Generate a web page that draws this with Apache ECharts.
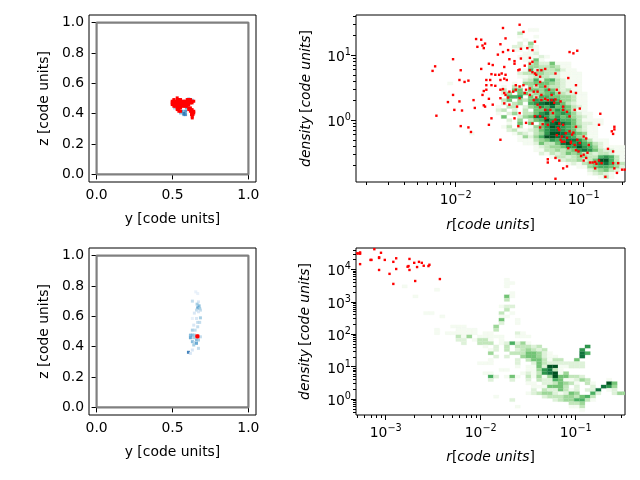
<!DOCTYPE html>
<html><head><meta charset="utf-8">
<style>html,body{margin:0;padding:0;background:#fff}#c{width:640px;height:480px}</style>
<script src="https://cdn.jsdelivr.net/npm/echarts@6/dist/echarts.min.js"></script>
</head><body><div id="c"></div>
<script>
// Axis limits
const linearMin = -0.05, linearMax = 1.05;
const topRExpMin = -2.778, topRExpMax = -0.677, topDensExpMin = -0.95, topDensExpMax = 1.62;
const botRExpMin = -3.313, botRExpMax = -0.481, botDensExpMin = -0.49, botDensExpMax = 4.657;
// Tick labels
const yTicks = [0, 0.5, 1];
const zTicks = [0, 0.2, 0.4, 0.6, 0.8, 1];
const topRMajor = [0.01, 0.1];
const topRMinor = [0.002,0.003,0.004,0.005,0.006,0.007,0.008,0.009,0.02,0.03,0.04,0.05,0.06,0.07,0.08,0.09,0.2];
const topDensMajor = [1, 10];
const topDensMinor = [0.2,0.3,0.4,0.5,0.6,0.7,0.8,0.9,2,3,4,5,6,7,8,9,20,30,40];
const botRMajor = [0.001, 0.01, 0.1];
const botRMinor = [0.0005,0.0006,0.0007,0.0008,0.0009,0.002,0.003,0.004,0.005,0.006,0.007,0.008,0.009,0.02,0.03,0.04,0.05,0.06,0.07,0.08,0.09,0.2,0.3];
const botDensMajor = [1, 10, 100, 1000, 10000];
const botDensMinor = [0.4,0.5,0.6,0.7,0.8,0.9,2,3,4,5,6,7,8,9,20,30,40,50,60,70,80,90,200,300,400,500,600,700,800,900,2000,3000,4000,5000,6000,7000,8000,9000,20000,30000,40000];
// Frame drawn in the left panels
const boxPath = [[0,0],[1,0],[1,1],[0,1],[0,0]];
// Colour levels
const greens = ['#ffffff','#f4fbf1','#def2d9','#c2e7bb','#9dd798','#73c476','#4bb062','#2e964d','#10743c','#005322'];
const blues = ['#ffffff','#e3eef9','#cfe1f2','#b5d4e9','#93c4de','#6caed6','#4a97c9','#2e7ebc','#1764ab','#084a91'];
// Top-left panel: [y, z, level]
const topLeftBlue = [[.513,.438,4],[.542,.438,6],[.564,.416,7],[.586,.416,7],[.575,.401,8],[.592,.438,6],[.553,.405,5],[.618,.493,6],[.629,.489,5],[.607,.497,5],[.575,.394,7],[.586,.394,7]];
const topLeftRed = [[.531,.504],
[.509,.493],[.531,.493],[.542,.493],[.553,.493],[.597,.493],[.607,.493],[.618,.493],
[.498,.482],[.509,.482],[.520,.482],[.531,.482],[.542,.482],[.553,.482],[.564,.482],[.575,.482],[.586,.482],[.597,.482],[.607,.482],[.618,.482],[.629,.482],[.640,.482],
[.498,.471],[.509,.471],[.520,.471],[.531,.471],[.542,.471],[.553,.471],[.564,.471],[.575,.471],[.586,.471],[.597,.471],[.607,.471],[.618,.471],[.629,.471],
[.498,.460],[.509,.460],[.520,.460],[.531,.460],[.542,.460],[.553,.460],[.564,.460],[.575,.460],[.586,.460],[.597,.460],[.607,.460],
[.509,.449],[.520,.449],[.531,.449],[.542,.449],[.553,.449],[.564,.449],[.575,.449],[.586,.449],[.597,.449],
[.531,.438],[.542,.438],[.553,.438],[.607,.438],[.618,.438],
[.531,.427],[.542,.427],[.607,.427],[.618,.427],[.629,.427],
[.542,.416],[.553,.416],[.618,.416],[.629,.416],[.640,.416],
[.625,.405],[.640,.405],[.625,.394],[.635,.394],[.630,.383],[.630,.372]];
// Bottom-left panel: [y, z, level]
const botLeftBlue = [[.653,.761,1],[.666,.750,1],[.631,.700,3],[.671,.695,2],[.662,.680,4],[.675,.669,5],[.666,.656,6],[.679,.652,4],[.658,.641,3],[.684,.641,3],[.671,.630,2],[.644,.621,2],[.684,.590,4],[.631,.586,1],[.658,.586,2],[.666,.560,3],[.679,.560,3],[.640,.542,2],[.666,.531,3],[.631,.509,4],[.649,.509,3],[.618,.476,5],[.631,.476,5],[.644,.476,4],[.618,.459,6],[.640,.459,4],[.658,.444,5],[.671,.444,4],[.631,.433,5],[.644,.428,3],[.684,.465,3],[.658,.422,6],[.640,.411,4],[.671,.389,3],[.631,.378,2],[.605,.363,8],[.618,.356,2]];
const botLeftRed = [[.658,.474],[.664,.474],[.670,.474],[.658,.468],[.664,.468],[.670,.468],[.658,.462],[.664,.462],[.670,.462]];
// Top-right histogram rows: [row, firstColumn, counts]
const topHeat = [
[45,32,[1,1]],[44,30,[3]],[43,30,[1,0,0,1]],[42,31,[1]],[41,30,[2,0,4]],[40,29,[2,2,1,3,1]],[39,29,[1,1,0,1,1]],[38,31,[1,1,2]],
[37,30,[1,1,1,1,2,1]],[36,31,[1,1,5,1]],[35,32,[3,4,2,2,5,1,1,1]],[34,32,[4,4,3,3,4,3,1,1]],[33,31,[1,6,2,4,3,3,4,2,1,1]],
[32,30,[2,3,3,4,4,3,3,2,1,1,1,1]],[31,30,[1,1,2,3,3,3,2,2,1,1,1,1]],[30,31,[2,3,6,2,5,6,3,2,1,1,1]],
[29,17,[1]],[29,29,[1,0,4,4,5,5,5,4,3,2,1,1,1]],[28,27,[1,0,3,2,0,4,3,5,4,3,3,2,1,1,1]],[27,27,[3,0,5,5,0,5,5,4,6,5,3,2,3,1,1]],
[26,26,[0,2,4,0,5,5,3,4,4,5,6,4,3,2,2,1,1]],[25,27,[0,6,6,7,0,5,3,6,6,5,5,4,4,3,1,1]],[24,26,[0,3,5,0,4,3,5,7,6,6,8,6,4,4,3,1,1]],
[23,26,[0,2,0,3,4,0,6,7,8,9,9,7,5,3,2,1,1]],[22,26,[1,0,3,3,0,2,4,5,7,6,8,5,6,5,3,2,1]],[21,26,[2,3,0,2,0,3,0,5,5,7,5,7,6,5,3,1,1]],
[20,26,[1,0,2,4,0,3,3,5,7,8,5,6,7,6,4,2,1,1]],[19,27,[5,0,0,2,4,5,8,8,7,5,7,5,6,4,3,2,1]],[18,27,[0,2,0,4,0,3,5,6,9,7,8,6,6,5,3,1,1,1,1]],
[17,27,[0,1,0,5,0,5,0,4,7,8,9,8,7,5,3,2,2,1,1]],[16,26,[0,1,3,0,3,0,1,4,5,7,9,8,7,6,5,4,2,1,1]],[15,28,[2,3,1,1,2,3,5,7,8,8,7,6,5,3,2,1,1]],
[14,21,[1]],[14,29,[1,3,2,1,3,4,7,9,9,8,7,6,5,4,1,1]],[13,30,[1,4,2,4,6,9,9,8,8,7,6,4,3,1,1]],[12,30,[1,1,1,3,4,5,7,6,7,8,8,7,5,3,1,1,1]],
[11,31,[1,1,2,5,3,3,5,8,9,7,8,6,5,3,2,1]],[10,33,[1,2,3,4,4,5,7,7,9,7,6,4,2,1,1,1,1]],[9,33,[1,1,3,3,4,3,4,5,7,8,7,5,3,2,2,1,1]],
[8,34,[2,1,3,2,3,5,4,5,3,3,2,3,3,2,1,1]],[7,36,[1,3,3,2,3,4,4,3,3,6,7,6,3,1,1]],[6,38,[2,3,3,4,2,3,5,9,9,6,3,1]],
[5,39,[1,2,1,3,4,5,7,8,6,4,3]],[4,41,[1,1,4,5,6,6,5,4,2]],[3,43,[2,3,4,5,3,2]],[2,43,[1,2,3,2,1]],[1,45,[1,3,1]]];
// Bottom-right histogram rows: [row, firstColumn, counts]
const botHeat = [
[40,4,[1]],[39,4,[1,1]],[38,-15,[1]],[38,4,[1]],[37,-9,[1]],[36,5,[1]],[35,-13,[1]],[35,4,[5,1]],[34,4,[3]],[32,3,[1,2,2]],[31,4,[3]],
[30,-11,[1,1]],[30,3,[3,0,1]],[29,-8,[1]],[29,3,[1,1]],[28,3,[5,0,0,1]],[27,3,[2,0,0,1]],[26,-6,[1,1,1]],[26,2,[4]],[25,-9,[1]],[25,-5,[1,1,1,1]],[25,2,[3]],
[24,-9,[1]],[24,-7,[1,1,1,1,1,1]],[24,0,[1,1,0,0,0,0,2,1]],[23,-5,[3,1,4]],[23,-1,[1,1,1,1,1,0,0,1,1,1]],[22,-5,[2,2,0,1,3]],[22,0,[3,1,0,1]],
[21,-4,[2]],[21,-1,[3,3,3,0,1,2,6,2,4,1]],[20,0,[1,0,2,0,3,0,3,3,3,2,3]],[20,19,[7]],[19,1,[1,2,0,3,0,2,3,4,3,2,3]],[19,18,[7]],
[18,1,[4,0,0,0,3,3,3,5,5,4,2,1]],[18,18,[8,6]],[17,2,[2,0,2,0,0,4,5,5,4,2,1]],[17,13,[1]],[17,18,[8]],
[16,1,[1,0,0,0,0,2,0,3,5,5,3,1,3,3,0,0,5]],[15,-1,[1,1,1]],[15,6,[2,0,0,2,5,3,2,2,2,2,2,2,2]],[14,6,[1,0,1,1,5,2,9,9,1,1,2,2,2]],
[13,3,[1,1,0,0,0,1,1,4,7,8,3,1]],[12,0,[1,1]],[12,7,[1,2,1,3,7,8,9,1,4]],[11,1,[6,2,0,1,5,1,0,3,1,4,1,4,9,5,5,3,3,2]],
[10,1,[2,0,0,0,2,0,0,2,0,3,2,2,6,5,1,1,2,4,3,0,0,0,1]],[9,8,[1,1,0,2,2,3,5,4,3,1,0,3,1,0,0,9,5]],[8,9,[1,1,1,5,5,5,3,0,2,0,0,2,0,8,7,4]],
[7,9,[2,0,3,2,2,5,3,1,2,0,2,2,8,0,1,2]],[6,8,[1,2,3,4,4,2,1,2,5,4,0,0,6,2,0,0,2,4,4]],[5,2,[1]],[5,11,[2,3,3,3,4,4,3,5,6,3]],
[4,5,[2]],[4,13,[2,3,4,4,6,6,3,1]],[3,16,[3,3,4]],[2,6,[1]],[2,16,[1,1,3]],[1,18,[1]]];
// Red particles, as [log10 r, log10 density]
const topRed = [[-2.18,.76],[-2.16,.83],[-2.15,.07],[-2.02,.94],[-1.96,.77],[-2.02,.39],[-2.06,.28],[-1.97,.62],[-1.93,.59],[-1.90,.61],[-1.97,.29],[-2.01,.16],[-1.95,.15],[-1.96,-.09],[-1.90,-.11],[-1.88,-.18],[-1.86,.31],[-1.85,.19],[-1.84,1.25],[-1.80,1.24],[-1.83,1.13],[-1.79,1.15],[-1.77,1.18],[-1.78,1.11],[-1.80,.79],[-1.74,.87],[-1.71,.85],[-1.76,.62],[-1.73,.62],[-1.72,.71],[-1.69,.70],[-1.76,.47],[-1.78,.45],[-1.79,.39],[-1.76,.54],[-1.72,.54],[-1.69,.53],[-1.74,.33],[-1.78,.23],[-1.77,.21],[-1.71,.24],[-1.72,.03],[-1.74,-.07],[-1.65,-.30],[-1.65,1.17],[-1.63,1.42],[-1.61,1.26],[-1.50,1.47],[-1.47,1.36],[-1.67,1.01],[-1.63,1.05],[-1.59,1.08],[-1.55,1.07],[-1.49,1.10],[-1.44,1.11],[-1.40,1.08],[-1.38,1.21],[-1.42,.96],[-1.40,.90],[-1.58,.94],[-1.54,.87],[-1.51,.77],[-1.46,.84],[-1.42,.87],[-1.62,.82],[-1.61,.70],[-1.66,.70],[-1.64,.72],[-1.65,.62],[-1.62,.64],[-1.60,.62],[-1.63,.48],[-1.65,.47],[-1.62,.42],[-1.61,.39],[-1.58,.44],[-1.55,.44],[-1.53,.54],[-1.50,.52],[-1.47,.54],[-1.45,.47],[-1.42,.49],[-1.39,.44],[-1.37,.54],[-1.34,.59],[-1.30,.52],[-1.27,.47],[-1.36,.77],[-1.33,.77],[-1.30,.79],[-1.40,.74],[-1.37,.70],[-1.34,.67],[-1.22,.72],[-1.21,.47],[-1.25,.39],[-1.28,.31],[-1.33,.39],[-1.37,.35],[-1.39,.31],[-1.42,.39],[-1.46,.42],[-1.50,.34],[-1.52,.21],[-1.58,.24],[-1.59,.35],[-1.65,.34],[-1.62,.26],[-1.50,.11],[-1.54,.03],[-1.51,-.09],[-1.45,-.04],[-1.40,-.05],[-1.34,.06],[-1.30,.03],[-1.26,.16],[-1.22,.32],[-1.19,.42],[-1.16,.21],[-1.13,.13],[-1.11,.06],[-1.07,.16],[-1.03,.18],[-1.10,.44],[-1.06,.42],[-1.12,.65],[-1.06,.54],[-1.11,1.05],[-1.08,1.03],[-1.05,1.07],[-.87,.10],[-.88,-.07],[-1.18,.29],[-1.36,.24],[-1.34,.20],[-1.30,.16],[-1.28,-.07],[-1.24,.11],[-1.22,.01],[-1.19,-.05],[-1.16,-.07],[-1.20,-.12],[-1.21,-.23],[-1.17,-.25],[-1.15,-.33],[-1.11,-.17],[-1.08,-.19],[-1.06,-.10],[-1.10,-.33],[-1.07,-.38],[-1.03,-.35],[-1.00,-.25],[-.96,-.38],[-.98,-.28],[-1.04,-.48],[-1.00,-.53],[-.98,-.58],[-1.28,-.60],[-1.28,-.65],[-1.22,-.58],[-1.19,-.62],[-1.13,-.71],[-1.16,-.74],[-1.22,-.90],[-.91,-.64],[-.93,-.65],[-.95,-.65],[-.86,-.66],[-.91,-.74],[-.83,-.87],[-.77,-.66],[-.73,-.66],[-.76,-.74],[-.70,-.76],[-.74,-.81],[-.68,-.76],[-.81,-.44],[-.77,-.48],[-.78,-.17],[-.77,-.21],[-.76,-.10],[-.76,-.14],[-1.17,-.33],[-1.12,-.43],[-1.10,-.35],[-1.06,-.46],[-1.34,-.11],[-1.32,-.06],[-1.38,.06],[-1.23,.27],[-1.16,.16],[-1.30,.33],[-1.25,.31],[-1.36,.44],[-1.33,.31],[-1.53,.47],[-1.42,.77],[-1.38,.72],[-1.49,.95],[-1.54,.91],[-1.50,.78],[-1.02,-.55],[-1.0,-.62],[-1.05,-.30],[-1.14,-.20],[-1.19,-.15],[-1.09,-.22],[-1.24,-.02],[-1.18,-.30],[-1.13,-.27],[-.97,-.5],[-.9,-.67],[-.88,-.62]];
const botRed = [[-3.29,4.49],[-3.27,4.52],[-3.27,4.48],[-3.30,4.49],[-3.27,4.16],[-3.16,4.29],[-3.15,4.29],[-3.12,4.62],[-3.07,4.37],[-3.07,4.35],[-3.05,4.51],[-3.01,4.29],[-3.07,3.98],[-2.96,3.86],[-2.92,4.23],[-2.89,4.34],[-2.89,4.01],[-2.92,3.55],[-2.75,4.32],[-2.76,4.10],[-2.77,4.08],[-2.75,3.98],[-2.70,4.20],[-2.69,3.64],[-2.67,4.07],[-2.65,4.23],[-2.62,4.20],[-2.60,4.11],[-2.55,4.10],[-2.54,4.14],[-2.43,3.70]];
// Histogram bin origin and step, in log10 units
const topBins = {x0: topRExpMin, dx: (topRExpMax - topRExpMin) / 50, y0: topDensExpMin, dy: (topDensExpMax - topDensExpMin) / 50};
const botBins = {x0: -1.979, dx: 0.05664, y0: botDensExpMin, dy: (botDensExpMax - botDensExpMin) / 50};

const FONT = 'DejaVu Sans', FS = 13.9, TICK = 5, MINOR = 3;
const textBase = {fontFamily: FONT, fontSize: FS, color: '#000'};
const pow10 = e => Math.pow(10, e);
const toPow = p => [pow10(p[0]), pow10(p[1])];

function cells(rows, b) {
  const out = [];
  rows.forEach(([j, c0, counts]) => counts.forEach((lv, k) => {
    if (!lv) return;
    const c = c0 + k;
    out.push([pow10(b.x0 + c * b.dx), pow10(b.x0 + (c + 1) * b.dx), pow10(b.y0 + j * b.dy), pow10(b.y0 + (j + 1) * b.dy), lv]);
  }));
  return out;
}
function renderCell(p, api) {
  const a = api.coord([api.value(0), api.value(2)]), b = api.coord([api.value(1), api.value(3)]);
  const col = greens[api.value(4)];
  return {type: 'rect', shape: {x: a[0], y: b[1], width: b[0] - a[0], height: a[1] - b[1]},
    style: {fill: col, stroke: col, lineWidth: 0.2}};
}
const supLabel = v => {
  const e = Math.round(Math.log10(v));
  return '{b|10}{s|' + (e < 0 ? '\u2212' + (-e) : e) + '}';
};
const richSup = {b: {fontFamily: FONT, fontSize: FS, color: '#000', padding: [5, 0, 0, 0]},
                 s: {fontFamily: FONT, fontSize: 9.7, color: '#000', padding: [0, 0, 5, 0]}};

function linAxis(gi, name, ticks, dim) {
  return {type: 'value', gridIndex: gi, min: linearMin, max: linearMax, position: dim === 'x' ? 'bottom' : 'left',
    name, nameLocation: 'middle', nameGap: dim === 'x' ? 30 : 38, nameTextStyle: textBase,
    splitLine: {show: false}, axisLine: {show: false},
    axisTick: {show: true, length: TICK, customValues: ticks, lineStyle: {color: '#000', width: 1}},
    axisLabel: Object.assign({}, textBase, {margin: dim === 'x' ? 6 : 5, padding: dim === 'x' ? 0 : [2, 0, 0, 0], customValues: ticks, hideOverlap: false, formatter: v => (+v).toFixed(1)})};
}
function logAxes(gi, dim, lo, hi, major, minor, nameRich, gap) {
  const common = {type: 'log', logBase: 10, gridIndex: gi, min: pow10(lo), max: pow10(hi), position: dim === 'x' ? 'bottom' : 'left',
    splitLine: {show: false}, axisLine: {show: false}};
  return [
    Object.assign({}, common, {name: nameRich, nameLocation: 'middle', nameGap: gap,
      nameTextStyle: Object.assign({}, textBase, {rich: {
        i: {fontFamily: FONT, fontSize: FS, fontStyle: 'italic', color: '#000'},
        d: {fontFamily: FONT, fontSize: FS, fontStyle: 'italic', color: '#000', padding: [0, 3, 0, 0]},
        n: {fontFamily: FONT, fontSize: FS, color: '#000'}}}),
      axisTick: {show: true, length: TICK, customValues: major, lineStyle: {color: '#000', width: 1}},
      axisLabel: Object.assign({}, textBase, {margin: dim === 'x' ? 6 : 5, customValues: major, hideOverlap: false, formatter: supLabel, rich: richSup})}),
    Object.assign({}, common, {axisTick: {show: true, length: MINOR, customValues: minor, lineStyle: {color: '#000', width: 1}}, axisLabel: {show: false}})
  ];
}
const grid = (left, top, width, height) => ({left, top, width, height, show: true, borderColor: '#000', borderWidth: 1, backgroundColor: 'transparent'});
const xName = '{i|r}{n|[}{i|code units}{n|]}';
const yName = '{d|density}{n|[}{i|code units}{n|]}';

const xAxis = [linAxis(0, 'y [code units]', yTicks, 'x')].concat(
  logAxes(1, 'x', topRExpMin, topRExpMax, topRMajor, topRMinor, xName, 36),
  [linAxis(2, 'y [code units]', yTicks, 'x')],
  logAxes(3, 'x', botRExpMin, botRExpMax, botRMajor, botRMinor, xName, 35));
const yAxis = [linAxis(0, 'z [code units]', zTicks, 'y')].concat(
  logAxes(1, 'y', topDensExpMin, topDensExpMax, topDensMajor, topDensMinor, yName, 43),
  [linAxis(2, 'z [code units]', zTicks, 'y')],
  logAxes(3, 'y', botDensExpMin, botDensExpMax, botDensMajor, botDensMinor, yName, 44));

const box = (xi, yi) => ({type: 'line', xAxisIndex: xi, yAxisIndex: yi, data: boxPath, symbol: 'none', z: 3, lineStyle: {color: '#808080', width: 2.2}, silent: true});
const dots = (xi, yi, data, size) => ({type: 'scatter', xAxisIndex: xi, yAxisIndex: yi, data, symbol: 'rect', symbolSize: size, z: 5, silent: true, itemStyle: {color: '#ff0000', opacity: 1}, clip: true});
const blueDots = (xi, yi, data) => ({type: 'scatter', xAxisIndex: xi, yAxisIndex: yi, data, symbol: 'rect', symbolSize: 3, z: 4, silent: true, itemStyle: {color: p => blues[p.data[2]]}});
const heat = (xi, yi, data) => ({type: 'custom', xAxisIndex: xi, yAxisIndex: yi, data, z: 2, silent: true, clip: true, renderItem: renderCell, encode: {x: [0, 1], y: [2, 3]}});

const chart = echarts.init(document.getElementById('c'), null, {renderer: 'canvas', width: 640, height: 480});
chart.setOption({
  animation: false, backgroundColor: '#fff',
  grid: [grid(89, 15, 167, 167), grid(356, 15, 269, 167), grid(89, 248, 167, 167), grid(356, 248, 269, 167)],
  xAxis, yAxis,
  series: [
    box(0, 0), blueDots(0, 0, topLeftBlue), dots(0, 0, topLeftRed, 3),
    heat(1, 1, cells(topHeat, topBins)), dots(1, 1, topRed.map(toPow), 2.4),
    box(3, 3), blueDots(3, 3, botLeftBlue), dots(3, 3, botLeftRed, 2),
    heat(4, 4, cells(botHeat, botBins)), dots(4, 4, botRed.map(toPow), 2.4)
  ]
});
</script></body></html>
